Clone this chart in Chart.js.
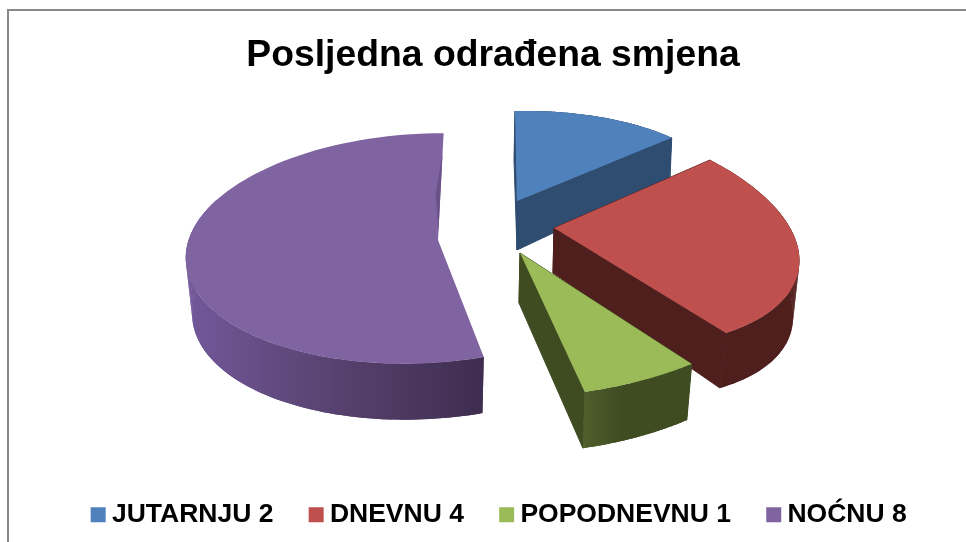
<!DOCTYPE html>
<html>
<head>
<meta charset="utf-8">
<title>Posljedna odrađena smjena</title>
<script src="https://cdn.jsdelivr.net/npm/chart.js@4"></script>
<style>
    html, body { margin: 0; padding: 0; background: #fff; overflow: hidden; }
    #frame { position: absolute; left: 7px; top: 9px; width: 970px; height: 550px; border-top: 2px solid #888; border-left: 2px solid #888; }
    #pie { position: absolute; left: 0; top: 0; }
</style>
</head>
<body>
<div id="frame"></div>
<canvas id="pie" width="966" height="542"></canvas>
<script>
const categories = ["JUTARNJU 2", "DNEVNU 4", "POPODNEVNU 1", "NOĆNU 8"];
const shifts = [2, 4, 1, 8];
const topColors = ["#4F81BD", "#C0504D", "#9BBB59", "#8064A2"];

// 3D look: every slice has a projection for its top and bottom face
// [centre x, centre y, a, b, c, d, g, h] -> x' = (a*px + c*py) / w, w = 1 + g*px + h*py
const topView = [
    [517, 201, 210, -4, 2, 90, 0, 0],
    [554, 228, 242.7, 15.3, 36.3, 118.7, 0, 0],
    [520, 253, 284, -9.5, 5.9, 144, 0, 0],
    [438, 240, 236, -6, -6, 114.3, 0.06, -0.07]
];
const bottomView = [
    [517, 250, 208.6, -15.9, 3, 90, 0, 0],
    [553, 273, 237.7, 26.9, 33.6, 122.6, 0, 0],
    [519, 303, 276.4, -7.1, 6.6, 149.9, 0, 0],
    [438, 296, 230, -6, -6, 114.3, 0.06, -0.07]
];
// wall colours, [offset, colour] stops running left to right
const wallStops = [
    [[0, "#2F4D71"], [1, "#2F4D71"]],
    [[0, "#4F1F1E"], [1, "#4F1F1E"]],
    [[0, "#505F2C"], [0.35, "#3F4C22"], [1, "#3F4C22"]],
    [[0, "#73589A"], [0.5, "#57426F"], [1, "#3E2D50"]]
];
const cutFaceColors = ["#2F4D71", "#4F1F1E", "#3F4C22", null];
// how much of the rim gets a wall, the back of NOĆNU stays hidden
const wallSweep = [1, 1, 1, 0.65];

function project(view, r, angle) {
    // chart.js angles start at -90deg, shift so 0 is straight up
    const t = angle + Math.PI / 2;
    const px = r * Math.sin(t);
    const py = -r * Math.cos(t);
    const w = 1 + view[6] * px + view[7] * py;
    return [view[0] + (view[2] * px + view[4] * py) / w, view[1] + (view[3] * px + view[5] * py) / w];
}

function rim(view, from, to) {
    const pts = [];
    for (let i = 0; i <= 80; i++) {
        pts.push(project(view, 1, from + (to - from) * i / 80));
    }
    return pts;
}

function fillPoly(ctx, pts, style, edge) {
    ctx.beginPath();
    pts.forEach((p, i) => i ? ctx.lineTo(p[0], p[1]) : ctx.moveTo(p[0], p[1]));
    ctx.closePath();
    ctx.fillStyle = style;
    ctx.fill();
    if (edge) {
        ctx.strokeStyle = style;
        ctx.lineWidth = 1;
        ctx.stroke();
    }
}

const extrudedPie = {
    id: "extrudedPie",
    beforeDatasetsDraw(chart) {
        const ctx = chart.ctx;
        chart.getDatasetMeta(0).data.forEach((arc, i) => {
            const a0 = arc.startAngle, a1 = arc.endAngle;
            const top = topView[i], bottom = bottomView[i];
            const wallEnd = a0 + (a1 - a0) * wallSweep[i];
            const upper = rim(top, a0, wallEnd), lower = rim(bottom, a0, wallEnd);
            const xs = upper.concat(lower).map(p => p[0]);
            const grad = ctx.createLinearGradient(Math.min(...xs), 0, Math.max(...xs), 0);
            wallStops[i].forEach(s => grad.addColorStop(s[0], s[1]));

            if (cutFaceColors[i]) {
                [a0, a1].forEach(a => {
                    fillPoly(ctx, [project(top, 0, a), project(top, 1, a), project(bottom, 1, a), project(bottom, 0, a)], cutFaceColors[i], true);
                });
            }
            // the wall is swept step by step so the silhouette gets straight side edges
            fillPoly(ctx, upper.concat(lower.slice().reverse()), grad);
            for (let k = 0; k < 80; k++) {
                fillPoly(ctx, [upper[k], upper[k + 1], lower[k + 1], lower[k]], grad);
            }
            fillPoly(ctx, [project(top, 0, a0)].concat(rim(top, a0, a1)), topColors[i]);

            // NOĆNU has a thin shaded sliver along its back edge
            if (i == 3) {
                fillPoly(ctx, [project(top, 0.07, a1), project(top, 0.8, a1), project(top, 0.42, a1 - 0.05)], "#6A5188");
            }
        });
        return false;
    }
};

new Chart(document.getElementById("pie"), {
    type: "pie",
    data: {
        labels: categories,
        datasets: [{ data: shifts, backgroundColor: topColors, borderWidth: 0 }]
    },
    options: {
        responsive: false,
        animation: false,
        layout: { padding: { left: 37, right: 17, bottom: 4 } },
        plugins: {
            tooltip: { enabled: false },
            title: {
                display: true,
                text: "Posljedna odrađena smjena",
                color: "#000",
                font: { family: "'Liberation Sans'", size: 37.3, weight: "bold" },
                padding: { top: 33, bottom: 10 }
            },
            legend: {
                position: "bottom",
                align: "end",
                labels: {
                    color: "#000",
                    // thick outline on a tiny box keeps the swatch close to its text
                    boxWidth: 1,
                    boxHeight: 1,
                    padding: 42.25,
                    font: { family: "'Liberation Sans'", size: 26.5, weight: "bold" },
                    generateLabels(chart) {
                        const items = Chart.overrides.pie.plugins.legend.labels.generateLabels(chart);
                        return items.map(item => ({ ...item, strokeStyle: item.fillStyle, lineWidth: 14, lineJoin: "miter" }));
                    }
                }
            }
        }
    },
    plugins: [extrudedPie]
});
</script>
</body>
</html>
